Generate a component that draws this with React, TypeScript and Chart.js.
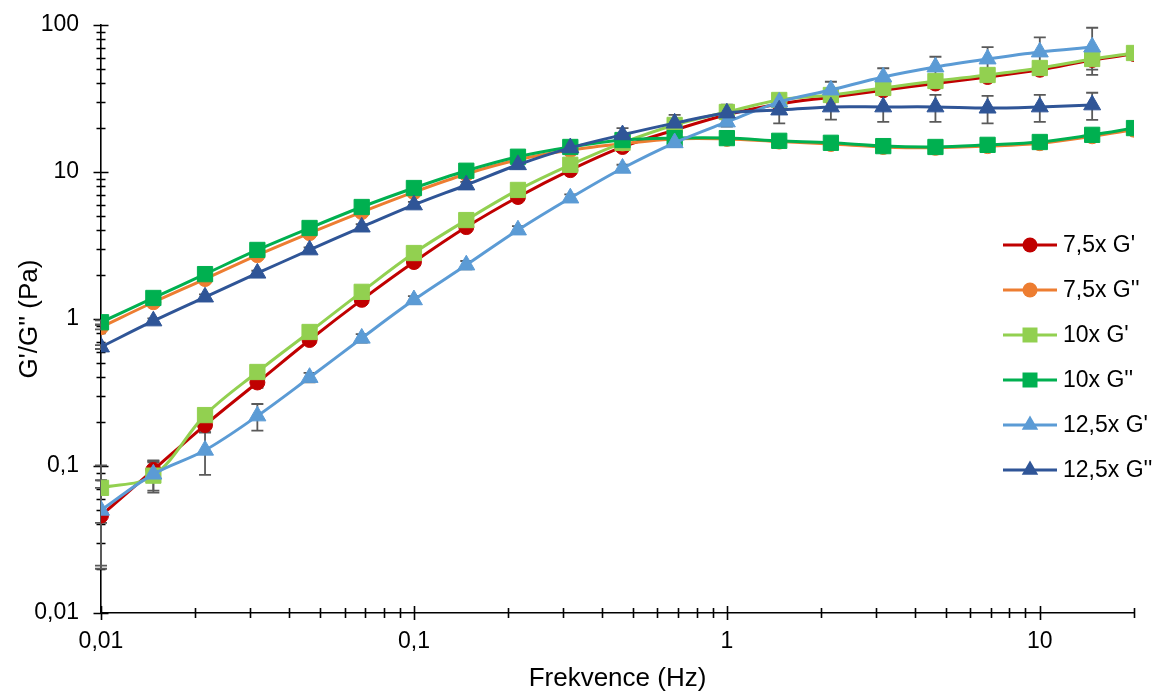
import React, { useEffect, useRef } from 'react';
import { Chart, registerables } from 'chart.js';

Chart.register(...registerables);

// ---------------- data ----------------
const frequencies = [0.01, 0.0147, 0.0215, 0.0316, 0.0464, 0.0681, 0.1, 0.147, 0.215, 0.316, 0.464, 0.681, 1, 1.47, 2.15, 3.16, 4.64, 6.81, 10, 14.7, 20];

const seriesNames = ["7,5x G'", "7,5x G''", "10x G'", "10x G''", "12,5x G'", "12,5x G''"];

const g75Storage = [0.046, 0.094, 0.19, 0.37, 0.72, 1.35, 2.44, 4.22, 6.76, 10.3, 14.8, 19.3, 24.5, 29.0, 32.3, 36.0, 40.0, 44.3, 49.6, 57.8, 63.5];
const g75Loss = [0.88, 1.3, 1.87, 2.72, 3.84, 5.34, 7.3, 9.7, 12.1, 14.1, 15.6, 16.8, 16.8, 16.1, 15.5, 14.8, 14.6, 15.0, 15.7, 17.5, 19.4];
const g10Storage = [0.071, 0.086, 0.222, 0.436, 0.816, 1.53, 2.81, 4.71, 7.55, 11.2, 15.8, 20.9, 25.6, 30.9, 33.4, 37.3, 41.6, 45.7, 51.0, 58.7, 64.5];
const g10Loss = [0.95, 1.39, 2.02, 2.95, 4.16, 5.78, 7.78, 10.2, 12.7, 14.8, 16.5, 17.0, 17.0, 16.3, 15.8, 15.0, 14.8, 15.3, 16.0, 17.9, 19.9];
const g125Storage = [0.05, 0.088, 0.128, 0.219, 0.4, 0.74, 1.35, 2.33, 4.03, 6.65, 10.6, 15.8, 21.9, 29.9, 36.1, 44.3, 51.8, 58.7, 65.5, 70.8, null];
const g125Loss = [0.645, 0.97, 1.41, 2.05, 2.95, 4.22, 5.97, 8.16, 11.2, 14.6, 17.9, 21.5, 25.2, 26.4, 27.7, 27.7, 27.7, 27.2, 27.7, 28.6, null];

const err75Storage = [0.025, 0.015, 0.02, 0.03, 0.03, 0.05, 0.08, 0.12, 0.2, 0.3, 0.4, 0.5, 0.6, 0.8, 1.0, 1.5, 2.0, 2.5, 3.0, 4.0, 0];
const err75Loss = [0.03, 0.04, 0.05, 0.08, 0.1, 0.15, 0.2, 0.25, 0.3, 0.3, 0.4, 0.4, 0.4, 0.4, 0.4, 0.4, 0.4, 0.4, 0.4, 0.5, 0];
const err10Storage = [0.03, 0.02, 0.02, 0.03, 0.04, 0.06, 0.1, 0.15, 0.25, 0.35, 0.5, 0.7, 0.9, 1.2, 1.5, 2.0, 2.5, 3.0, 4.0, 9.0, 0];
const err10Loss = [0.03, 0.04, 0.05, 0.07, 0.1, 0.13, 0.2, 0.25, 0.3, 0.35, 0.4, 0.4, 0.4, 0.4, 0.4, 0.4, 0.4, 0.4, 0.4, 0.5, 0];
const err125Storage = [0.03, 0.02, 0.041, 0.045, 0.03, 0.05, 0.08, 0.15, 0.25, 0.4, 0.6, 1.0, 1.5, 2.5, 5.0, 6.5, 9.0, 12.0, 17.0, 25.0, 0];
const err125Loss = [0.02, 0.04, 0.06, 0.08, 0.12, 0.2, 0.3, 0.4, 0.6, 1.0, 2.0, 3.0, 3.5, 5.0, 5.0, 5.8, 5.8, 5.8, 5.8, 6.0, 0];

const xTickValues = [0.01, 0.1, 1, 10];
const yTickValues = [0.01, 0.1, 1, 10, 100];

const seriesValues = [g75Storage, g75Loss, g10Storage, g10Loss, g125Storage, g125Loss];
const seriesErrors = [err75Storage, err75Loss, err10Storage, err10Loss, err125Storage, err125Loss];
const seriesColors = ['#C00000', '#ED7D31', '#92D050', '#00B050', '#5B9BD5', '#2F5597'];
const seriesShapes = ['circle', 'circle', 'rect', 'rect', 'triangle', 'triangle'];
const shapeRadius: Record<string, number> = { circle: 7.5, rect: 10.8, triangle: 9.8 };

const FONT = '"Liberation Sans", Arial, sans-serif';

function fmt(v: number): string {
  return String(v).replace('.', ',');
}

function drawMarker(ctx: CanvasRenderingContext2D, shape: string, x: number, y: number, color: string) {
  ctx.fillStyle = color;
  ctx.beginPath();
  if (shape === 'circle') {
    ctx.arc(x, y, 7.5, 0, Math.PI * 2);
  } else if (shape === 'rect') {
    ctx.rect(x - 7.5, y - 7.5, 15, 15);
  } else {
    const r = 9.5;
    ctx.moveTo(x, y - r);
    ctx.lineTo(x + r * Math.sin((2 * Math.PI) / 3), y - r * Math.cos((2 * Math.PI) / 3));
    ctx.lineTo(x + r * Math.sin((4 * Math.PI) / 3), y - r * Math.cos((4 * Math.PI) / 3));
    ctx.closePath();
  }
  ctx.fill();
}

const errorBarPlugin = {
  id: 'errorBars',
  beforeDatasetsDraw(chart: any) {
    const { ctx, scales } = chart;
    const xs = scales.x;
    const ys = scales.y;
    ctx.save();
    ctx.strokeStyle = '#5A5A5A';
    ctx.lineWidth = 1.8;
    chart.data.datasets.forEach((ds: any, di: number) => {
      const errs = seriesErrors[di];
      ds.data.forEach((p: any, i: number) => {
        if (p.y == null || !errs[i]) return;
        const x = xs.getPixelForValue(p.x);
        const yt = ys.getPixelForValue(p.y + errs[i]);
        const lower = p.y - errs[i];
        const yb = lower > 0 ? Math.min(ys.getPixelForValue(lower), chart.chartArea.bottom) : chart.chartArea.bottom;
        ctx.beginPath();
        ctx.moveTo(x, yt);
        ctx.lineTo(x, yb);
        ctx.moveTo(x - 6, yt);
        ctx.lineTo(x + 6, yt);
        if (lower > 0 && yb < chart.chartArea.bottom) {
          ctx.moveTo(x - 6, yb);
          ctx.lineTo(x + 6, yb);
        }
        ctx.stroke();
      });
    });
    ctx.restore();
  },
};

const axisTicksPlugin = {
  id: 'axisTicks',
  beforeDatasetsDraw(chart: any) {
    const { ctx, scales, chartArea } = chart;
    const xs = scales.x;
    const ys = scales.y;
    ctx.save();
    ctx.strokeStyle = '#000';
    ctx.lineWidth = 1.6;
    ctx.beginPath();
    for (let d = -2; d <= 2; d++) {
      for (let m = 1; m <= 9; m++) {
        const v = m * Math.pow(10, d);
        if (v >= xs.min * 0.999 && v <= xs.max * 1.001) {
          const px = Math.round(xs.getPixelForValue(v)) + 0.5;
          const len = m === 1 ? 7 : 5;
          ctx.moveTo(px, chartArea.bottom - len);
          ctx.lineTo(px, chartArea.bottom + len);
        }
        if (v >= ys.min * 0.999 && v <= ys.max * 1.001) {
          const py = Math.round(ys.getPixelForValue(v)) + 0.5;
          const len = m === 1 ? 7.5 : 4.5;
          ctx.moveTo(chartArea.left - len, py);
          ctx.lineTo(chartArea.left + len, py);
        }
      }
    }
    ctx.stroke();
    ctx.restore();
  },
};

const legendPlugin = {
  id: 'customLegend',
  afterDraw(chart: any) {
    const { ctx } = chart;
    ctx.save();
    const x0 = 1003;
    const x1 = 1057;
    const xm = 1030;
    const tx = 1063;
    seriesNames.forEach((name, i) => {
      const y = 245 + i * 45;
      ctx.strokeStyle = seriesColors[i];
      ctx.lineWidth = 2.8;
      ctx.beginPath();
      ctx.moveTo(x0, y);
      ctx.lineTo(x1, y);
      ctx.stroke();
      drawMarker(ctx, seriesShapes[i], xm, y, seriesColors[i]);
      ctx.fillStyle = '#000';
      ctx.font = `23px ${FONT}`;
      ctx.textAlign = 'left';
      ctx.textBaseline = 'middle';
      ctx.fillText(name, tx, y + 1);
    });
    ctx.restore();
  },
};

export default function App() {
  const canvasRef = useRef<HTMLCanvasElement | null>(null);

  useEffect(() => {
    if (!canvasRef.current) return;
    const datasets = seriesValues.map((vals, i) => ({
      label: seriesNames[i],
      data: frequencies.map((f, j) => ({ x: f, y: vals[j] })),
      borderColor: seriesColors[i],
      backgroundColor: seriesColors[i],
      pointBackgroundColor: seriesColors[i],
      pointBorderColor: seriesColors[i],
      pointBorderWidth: 1,
      pointStyle: seriesShapes[i],
      pointRadius: shapeRadius[seriesShapes[i]],
      pointHoverRadius: shapeRadius[seriesShapes[i]],
      borderWidth: 3,
      tension: 0.35,
      spanGaps: false,
      order: seriesNames.length - i,
    }));

    const chart = new Chart(canvasRef.current, {
      type: 'line',
      data: { datasets },
      plugins: [axisTicksPlugin, errorBarPlugin, legendPlugin],
      options: {
        animation: false,
        responsive: false,
        layout: { padding: { left: 0, top: 25, right: 20, bottom: 0 } },
        plugins: {
          legend: { display: false },
          tooltip: { enabled: false },
        },
        scales: {
          x: {
            type: 'logarithmic',
            min: 0.01,
            max: 20,
            afterBuildTicks: (scale: any) => {
              scale.ticks = xTickValues.map((v) => ({ value: v }));
            },
            afterFit: (scale: any) => {
              scale.height = 80;
              scale.paddingLeft = 0;
              scale.paddingRight = 0;
            },
            grid: { display: false, drawTicks: false },
            border: { display: true, color: '#000', width: 1.6 },
            ticks: {
              autoSkip: false,
              maxRotation: 0,
              padding: 15,
              color: '#000',
              font: { family: FONT, size: 23 },
              callback: (v: any) => fmt(Number(v)),
            },
            title: {
              display: true,
              text: 'Frekvence (Hz)',
              color: '#000',
              font: { family: FONT, size: 26, lineHeight: 1 },
              padding: { top: 0, bottom: 1 },
            },
          },
          y: {
            type: 'logarithmic',
            min: 0.01,
            max: 100,
            afterBuildTicks: (scale: any) => {
              scale.ticks = yTickValues.map((v) => ({ value: v }));
            },
            afterFit: (scale: any) => {
              scale.width = 101;
              scale.paddingTop = 0;
              scale.paddingBottom = 0;
            },
            grid: { display: false, drawTicks: false },
            border: { display: true, color: '#000', width: 1.6 },
            ticks: {
              autoSkip: false,
              padding: 22,
              color: '#000',
              font: { family: FONT, size: 23 },
              callback: (v: any) => fmt(Number(v)),
            },
            title: {
              display: true,
              text: "G'/G'' (Pa)",
              color: '#000',
              font: { family: FONT, size: 26, lineHeight: 1 },
              padding: { top: 17, bottom: 0 },
            },
          },
        },
      },
    } as any);

    return () => chart.destroy();
  }, []);

  return (
    <div style={{ position: 'fixed', left: 0, top: 0, width: 1154, height: 693, background: '#fff' }}>
      <canvas ref={canvasRef} width={1154} height={693} style={{ display: 'block', width: 1154, height: 693 }} />
    </div>
  );
}
